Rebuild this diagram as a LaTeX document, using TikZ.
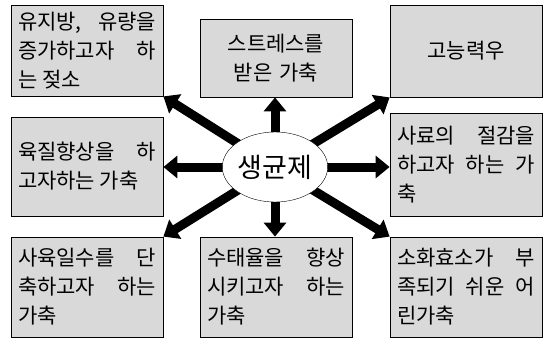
\documentclass[tikz,border=0pt]{standalone}
\usepackage{fontspec}
\setmainfont{Noto Sans CJK KR}
\usetikzlibrary{arrows.meta, shapes.geometric, backgrounds}

\begin{document}
\begin{tikzpicture}[x=1pt, y=-1pt,
    box/.style={draw, thick, fill=black!15, minimum width=152pt, text width=138pt, inner sep=0pt, align=justify, font=\fontsize{21}{29}\selectfont},
    arr/.style={line width=9pt, -{Triangle[length=14pt, width=22pt]}, shorten <=-8pt}]
    \useasboundingbox (0,0) rectangle (544,338);
    \node[box, minimum height=91pt] (tl) at (87,50.5) {유지방, 유량을\linebreak 증가하고자 하\linebreak 는 젖소};
    \node[box, minimum height=78pt, align=center] (tc) at (276,58) {스트레스를\\받은 가축};
    \node[box, minimum height=92pt, align=center] (tr) at (466,51) {고능력우};
    \node[box, minimum height=99pt] (ml) at (87,166.5) {육질향상을 하\linebreak 고자하는 가축};
    \node[box, minimum height=103pt] (mr) at (466,164.5) {사료의 절감을\linebreak 하고자 하는 가\linebreak 축};
    \node[box, minimum height=100pt] (bl) at (87,287) {사육일수를 단\linebreak 축하고자 하는\linebreak 가축};
    \node[box, minimum height=100pt] (bc) at (276,287) {수태율을 향상\linebreak 시키고자 하는\linebreak 가축};
    \node[box, minimum height=100pt] (br) at (466,287) {소화효소가 부\linebreak 족되기 쉬운 어\linebreak 린가축};
    \node[draw, ellipse, fill=white, minimum width=78pt, minimum height=70pt, inner sep=0pt, font=\fontsize{27}{27}\selectfont] (c) at (275,167) {생균제};
    \begin{scope}[on background layer]
        \draw[arr] (c) -- (tl.south east); \draw[arr] (c) -- (c |- tc.south); \draw[arr] (c) -- (tr.south west);
        \draw[arr] (c) -- (c -| ml.east); \draw[arr] (c) -- (c -| mr.west);
        \draw[arr] (c) -- (bl.north east); \draw[arr] (c) -- (c |- bc.north); \draw[arr] (c) -- (br.north west);
    \end{scope}
\end{tikzpicture}
\end{document}
